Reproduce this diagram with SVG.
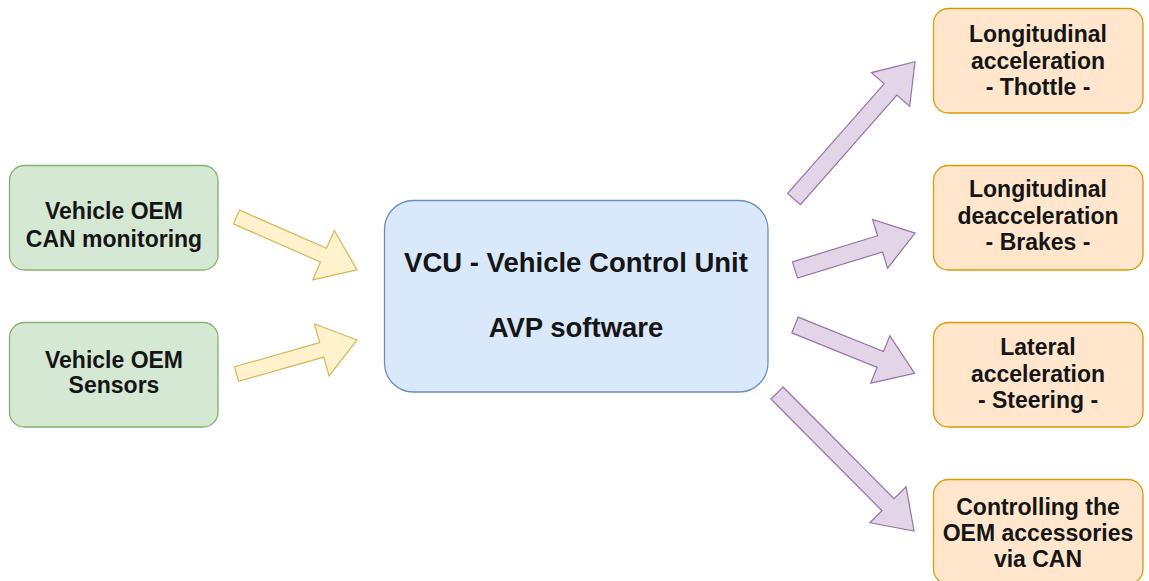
<svg xmlns="http://www.w3.org/2000/svg" width="1149" height="581" viewBox="0 0 1149 581">
  <style>
    .lbl { font-family: "Liberation Sans", Arial, sans-serif; font-weight: bold; fill: #151515; text-anchor: middle; }
    .s23 { font-size: 23px; }
    .s27 { font-size: 27.5px; }
    .green { fill: #d5e8d4; stroke: #82b366; stroke-width: 1.3; }
    .blue { fill: #dae8fc; stroke: #6c8ebf; stroke-width: 1.3; }
    .orange { fill: #ffe6cc; stroke: #d79b00; stroke-width: 1.3; }
    .ain { fill: #fff2cc; stroke: #d6b656; stroke-width: 1.2; stroke-linejoin: miter; }
    .aout { fill: #e1d5e7; stroke: #9673a6; stroke-width: 1.2; stroke-linejoin: miter; }
  </style>

  <rect width="1149" height="581" fill="#ffffff"/>

  <!-- block arrows: drawn along +x from the tail, then rotated into place -->
  <g id="connectors">
    <polygon class="ain" transform="translate(236.5,217) rotate(23.7)" points="0,-7.5 95,-7.5 95,-27 131.6,0 95,27 95,7.5 0,7.5"/>
    <polygon class="ain" transform="translate(236.5,374) rotate(-15.8)" points="0,-7.5 88.6,-7.5 88.6,-27 125.2,0 88.6,27 88.6,7.5 0,7.5"/>
    <polygon class="aout" transform="translate(794,199) rotate(-48.6)" points="0,-8.5 146,-8.5 146,-25.5 183,0 146,25.5 146,8.5 0,8.5"/>
    <polygon class="aout" transform="translate(795,270) rotate(-17.1)" points="0,-8.5 89,-8.5 89,-25.5 125.6,0 89,25.5 89,8.5 0,8.5"/>
    <polygon class="aout" transform="translate(795,325) rotate(22)" points="0,-8.5 92,-8.5 92,-25.5 129,0 92,25.5 92,8.5 0,8.5"/>
    <polygon class="aout" transform="translate(777,393) rotate(45.2)" points="0,-8.5 157.5,-8.5 157.5,-25.5 194.5,0 157.5,25.5 157.5,8.5 0,8.5"/>
  </g>

  <!-- inputs -->
  <g id="can-monitoring">
    <rect class="green" x="9.5" y="165.5" width="208.5" height="104.5" rx="15"/>
    <text class="lbl s23" x="114" y="219">Vehicle OEM</text>
    <text class="lbl s23" x="114" y="246.5">CAN monitoring</text>
  </g>
  <g id="oem-sensors">
    <rect class="green" x="9.5" y="322.5" width="208.5" height="104.5" rx="15"/>
    <text class="lbl s23" x="114" y="368">Vehicle OEM</text>
    <text class="lbl s23" x="114" y="393">Sensors</text>
  </g>

  <!-- control unit -->
  <g id="vcu">
    <rect class="blue" x="384.5" y="200.5" width="383.5" height="191.5" rx="29"/>
    <text class="lbl s27" x="576" y="272">VCU - Vehicle Control Unit</text>
    <text class="lbl s27" x="576" y="336.5">AVP software</text>
  </g>

  <!-- outputs -->
  <g id="throttle">
    <rect class="orange" x="933.5" y="8.5" width="209.5" height="104.5" rx="15"/>
    <text class="lbl s23" x="1038" y="42">Longitudinal</text>
    <text class="lbl s23" x="1038" y="68.5">acceleration</text>
    <text class="lbl s23" x="1038" y="95">- Thottle -</text>
  </g>
  <g id="brakes">
    <rect class="orange" x="933.5" y="165.5" width="209.5" height="104.5" rx="15"/>
    <text class="lbl s23" x="1038" y="197">Longitudinal</text>
    <text class="lbl s23" x="1038" y="223.5">deacceleration</text>
    <text class="lbl s23" x="1038" y="250">- Brakes -</text>
  </g>
  <g id="steering">
    <rect class="orange" x="933.5" y="322.5" width="209.5" height="104.5" rx="15"/>
    <text class="lbl s23" x="1038" y="355">Lateral</text>
    <text class="lbl s23" x="1038" y="381.5">acceleration</text>
    <text class="lbl s23" x="1038" y="408">- Steering -</text>
  </g>
  <g id="accessories">
    <rect class="orange" x="933.5" y="479.5" width="209.5" height="104.5" rx="15"/>
    <text class="lbl s23" x="1038" y="515">Controlling the</text>
    <text class="lbl s23" x="1038" y="541">OEM accessories</text>
    <text class="lbl s23" x="1038" y="567">via CAN</text>
  </g>
</svg>
